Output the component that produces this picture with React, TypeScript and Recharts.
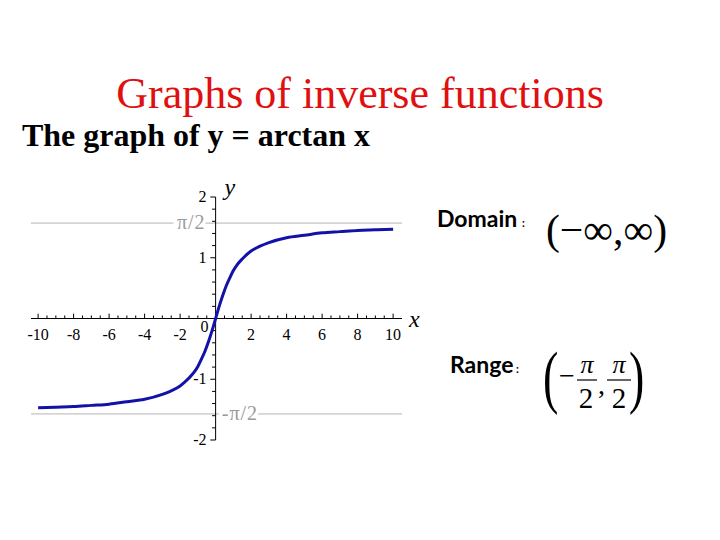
import React from 'react';
import { LineChart, Line, XAxis, YAxis, ReferenceLine, ReferenceDot } from 'recharts';

// arctan curve, values
const curveX = [-10, -9, -8, -7, -6, -5, -4, -3, -2.5, -2, -1.5, -1.2, -1, -0.8, -0.6, -0.4, -0.2, 0, 0.2, 0.4, 0.6, 0.8, 1, 1.2, 1.5, 2, 2.5, 3, 4, 5, 6, 7, 8, 9, 10];
const curveY = [-1.47, -1.46, -1.45, -1.43, -1.41, -1.37, -1.33, -1.25, -1.19, -1.11, -0.98, -0.88, -0.79, -0.67, -0.54, -0.38, -0.2, 0, 0.2, 0.38, 0.54, 0.67, 0.79, 0.88, 0.98, 1.11, 1.19, 1.25, 1.33, 1.37, 1.41, 1.43, 1.45, 1.46, 1.47];

const xTickLabels = [-10, -8, -6, -4, -2, 2, 4, 6, 8, 10];
const yTickLabels = [-2, -1, 1, 2];
const xMinorTicks = [-10, -9.5, -9, -8.5, -8, -7.5, -7, -6.5, -6, -5.5, -5, -4.5, -4, -3.5, -3, -2.5, -2, -1.5, -1, -0.5, 0.5, 1, 1.5, 2, 2.5, 3, 3.5, 4, 4.5, 5, 5.5, 6, 6.5, 7, 7.5, 8, 8.5, 9, 9.5, 10];
const yMinorTicks = [-2, -1.8, -1.6, -1.4, -1.2, -1, -0.8, -0.6, -0.4, -0.2, 0.2, 0.4, 0.6, 0.8, 1, 1.2, 1.4, 1.6, 1.8, 2];
const asymptotes = [1.5708, -1.5708];
const asymptoteLabels = ['π/2', '-π/2'];
const asymptoteLabelX = [-1.37, 1.37];

const data = curveX.map((x, i) => ({ x, y: curveY[i] }));

const SERIF = '"Liberation Serif", "Times New Roman", serif';
const SANS = 'Lato, "Open Sans", sans-serif';

export default function App() {
  return (
    <div style={{ position: 'absolute', left: 0, top: 0, width: 720, height: 540, background: '#fff' }}>
      <LineChart width={720} height={540} data={data} margin={{ top: 197, right: 318, bottom: 100, left: 31 }}>
        <XAxis type="number" dataKey="x" domain={[-10.4, 10.5]} hide allowDataOverflow />
        <YAxis type="number" domain={[-2, 2]} hide allowDataOverflow />
        {asymptotes.map((v) => (
          <ReferenceLine key={'a' + v} y={v} stroke="#b4b4b4" strokeWidth={1} />
        ))}
        <ReferenceLine y={0} stroke="#000" strokeWidth={1} />
        <ReferenceLine segment={[{ x: 0, y: -2 }, { x: 0, y: 2 }]} stroke="#000" strokeWidth={1} />
        {xMinorTicks.map((v) => (
          <ReferenceLine
            key={'xt' + v}
            segment={[{ x: v, y: 0 }, { x: v, y: xTickLabels.includes(v) ? 0.08 : 0.05 }]}
            stroke="#000"
            strokeWidth={1}
          />
        ))}
        {yMinorTicks.map((v) => (
          <ReferenceLine
            key={'yt' + v}
            segment={[{ x: 0, y: v }, { x: yTickLabels.includes(v) ? -0.3 : -0.2, y: v }]}
            stroke="#000"
            strokeWidth={1}
          />
        ))}
        <Line
          type="monotone"
          dataKey="y"
          stroke="#1212a8"
          strokeWidth={3}
          dot={false}
          isAnimationActive={false}
        />
        {asymptotes.map((v, i) => (
          <ReferenceDot
            key={'al' + i}
            x={asymptoteLabelX[i]}
            y={v}
            r={0}
            shape={(p: any) => (
              <text
                x={p.cx}
                y={p.cy + 6}
                textAnchor="middle"
                fontFamily={SERIF}
                fontSize={20}
                letterSpacing={1}
                fill="#9a9a9a"
                stroke="#fff"
                strokeWidth={7}
                style={{ paintOrder: 'stroke' }}
              >
                {asymptoteLabels[i]}
              </text>
            )}
          />
        ))}
        {xTickLabels.map((v) => (
          <ReferenceDot
            key={'xl' + v}
            x={v}
            y={0}
            r={0}
            shape={(p: any) => (
              <text x={p.cx} y={p.cy + 21} textAnchor="middle" fontFamily={SERIF} fontSize={16} fill="#000">
                {v}
              </text>
            )}
          />
        ))}
        {yTickLabels.map((v) => (
          <ReferenceDot
            key={'yl' + v}
            x={0}
            y={v}
            r={0}
            shape={(p: any) => (
              <text x={p.cx - 9} y={p.cy + 5} textAnchor="end" fontFamily={SERIF} fontSize={16} fill="#000">
                {v}
              </text>
            )}
          />
        ))}
        <ReferenceDot
          x={0}
          y={0}
          r={0}
          shape={(p: any) => (
            <text x={p.cx - 7} y={p.cy + 13} textAnchor="end" fontFamily={SERIF} fontSize={16} fill="#000">
              0
            </text>
          )}
        />
        <ReferenceDot
          x={0}
          y={2}
          r={0}
          shape={(p: any) => (
            <text x={p.cx + 9} y={p.cy - 2} fontFamily={SERIF} fontStyle="italic" fontSize={24} fill="#000">
              y
            </text>
          )}
        />
        <ReferenceDot
          x={10.5}
          y={0}
          r={0}
          shape={(p: any) => (
            <text x={p.cx + 7} y={p.cy + 8} fontFamily={SERIF} fontStyle="italic" fontSize={24} fill="#000">
              x
            </text>
          )}
        />
      </LineChart>
      <svg width={720} height={540} style={{ position: 'absolute', left: 0, top: 0, pointerEvents: 'none' }}>
        <text x={360} y={108} textAnchor="middle" fontFamily={SERIF} fontSize={44} fill="#e01010">
          Graphs of inverse functions
        </text>
        <text x={22} y={146} fontFamily={SERIF} fontWeight="bold" fontSize={31} textLength={348} lengthAdjust="spacingAndGlyphs" fill="#000">
          The graph of y = arctan x
        </text>
        <text x={437} y={227} fontFamily={SANS} fontWeight="bold" fontSize={23} fill="#000">
          Domain
        </text>
        <text x={522} y={227} fontFamily={SANS} fontWeight="bold" fontSize={11} fill="#000">
          :
        </text>
        <text x={546} y={244} fontFamily={SERIF} fontSize={42} textLength={121} lengthAdjust="spacingAndGlyphs" fill="#000">
          (−∞,∞)
        </text>
        <text x={450} y={373} fontFamily={SANS} fontWeight="bold" fontSize={23} fill="#000">
          Range
        </text>
        <text x={516} y={373} fontFamily={SANS} fontWeight="bold" fontSize={11} fill="#000">
          :
        </text>
        <text transform="translate(543,400) scale(1,1.5)" fontFamily={SERIF} fontSize={46} fill="#000">
          (
        </text>
        <text x={559} y={385} fontFamily={SERIF} fontSize={28} fill="#000">
          −
        </text>
        <text x={587} y={373} textAnchor="middle" fontFamily={SERIF} fontStyle="italic" fontSize={26} fill="#000">
          π
        </text>
        <line x1={577} x2={597} y1={380} y2={380} stroke="#000" strokeWidth={1.2} />
        <text x={586} y={408} textAnchor="middle" fontFamily={SERIF} fontSize={29} fill="#000">
          2
        </text>
        <text x={598} y={394} fontFamily={SERIF} fontSize={28} fill="#000">
          ,
        </text>
        <text x={619} y={373} textAnchor="middle" fontFamily={SERIF} fontStyle="italic" fontSize={26} fill="#000">
          π
        </text>
        <line x1={607} x2={631} y1={380} y2={380} stroke="#000" strokeWidth={1.2} />
        <text x={619} y={408} textAnchor="middle" fontFamily={SERIF} fontSize={29} fill="#000">
          2
        </text>
        <text transform="translate(629,400) scale(1,1.5)" fontFamily={SERIF} fontSize={46} fill="#000">
          )
        </text>
      </svg>
    </div>
  );
}
